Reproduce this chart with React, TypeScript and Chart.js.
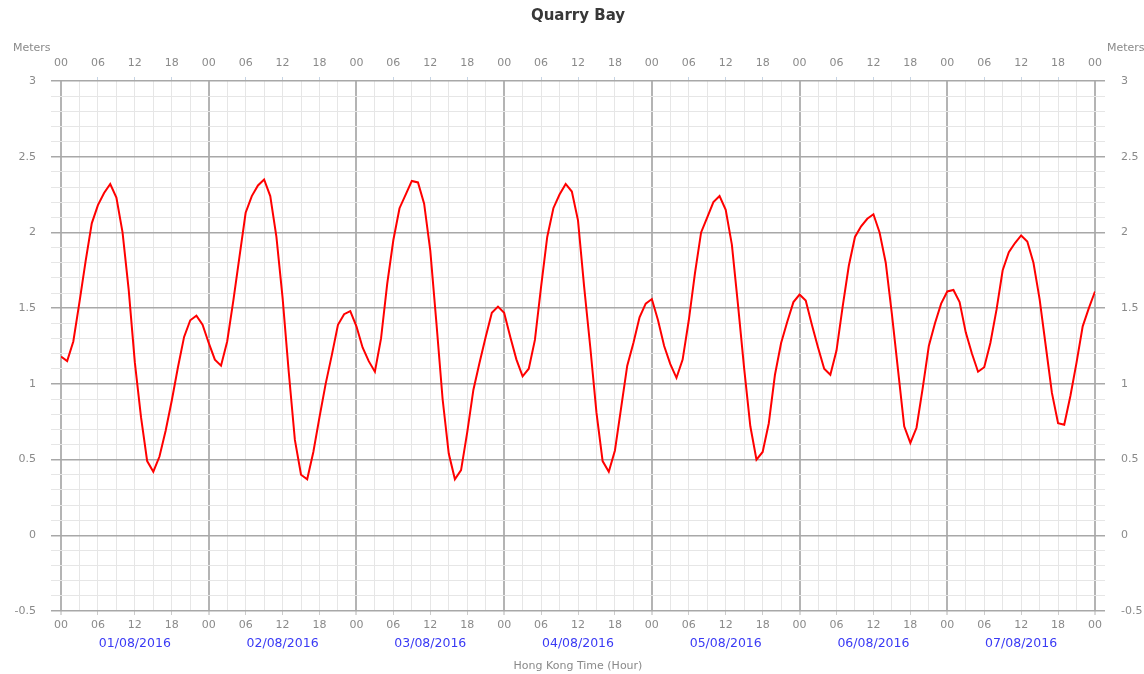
import React, { useEffect, useRef } from 'react';
import { Chart, registerables } from 'chart.js';

Chart.register(...registerables);

const stationName = 'Quarry Bay';
const unitLabel = 'Meters';
const timeAxisTitle = 'Hong Kong Time (Hour)';
const dayLabels = ['01/08/2016', '02/08/2016', '03/08/2016', '04/08/2016', '05/08/2016', '06/08/2016', '07/08/2016'];
const hourTickLabels = ['00', '06', '12', '18'];

// Hourly tide heights (m), one array per day
const day1 = [1.18, 1.15, 1.28, 1.54, 1.81, 2.06, 2.18, 2.26, 2.32, 2.23, 2.0, 1.62, 1.14, 0.78, 0.49, 0.42, 0.52, 0.69, 0.89, 1.11, 1.31, 1.42, 1.45, 1.39];
const day2 = [1.27, 1.16, 1.12, 1.28, 1.55, 1.84, 2.13, 2.24, 2.31, 2.35, 2.24, 1.97, 1.57, 1.08, 0.63, 0.4, 0.37, 0.55, 0.78, 1.0, 1.19, 1.39, 1.46, 1.48];
const day3 = [1.38, 1.24, 1.15, 1.08, 1.3, 1.66, 1.95, 2.16, 2.25, 2.34, 2.33, 2.19, 1.88, 1.4, 0.9, 0.54, 0.37, 0.43, 0.68, 0.96, 1.14, 1.31, 1.47, 1.51];
const day4 = [1.47, 1.31, 1.16, 1.05, 1.1, 1.29, 1.64, 1.97, 2.16, 2.25, 2.32, 2.27, 2.08, 1.64, 1.24, 0.81, 0.49, 0.42, 0.56, 0.84, 1.12, 1.27, 1.44, 1.53];
const day5 = [1.56, 1.42, 1.25, 1.13, 1.04, 1.16, 1.42, 1.73, 2.0, 2.1, 2.2, 2.24, 2.15, 1.92, 1.52, 1.1, 0.72, 0.5, 0.55, 0.74, 1.06, 1.27, 1.41, 1.54];
const day6 = [1.59, 1.55, 1.39, 1.24, 1.1, 1.06, 1.22, 1.51, 1.78, 1.97, 2.04, 2.09, 2.12, 2.0, 1.8, 1.46, 1.09, 0.72, 0.61, 0.71, 0.97, 1.25, 1.4, 1.53];
const day7 = [1.61, 1.62, 1.54, 1.34, 1.2, 1.08, 1.11, 1.27, 1.49, 1.75, 1.87, 1.93, 1.98, 1.94, 1.8, 1.56, 1.25, 0.94, 0.74, 0.73, 0.92, 1.14, 1.38, 1.5, 1.61];

const tideLevels = [...day1, ...day2, ...day3, ...day4, ...day5, ...day6, ...day7];

const FONT = '"DejaVu Sans", Verdana, sans-serif';
const LABEL_GREY = '#8a8a8a';

const hourLabel = (value: number) => {
  const v = Math.round(value);
  return v % 6 === 0 ? hourTickLabels[(v % 24) / 6] : '';
};
const levelLabel = (value: number) => {
  const t = Math.round(value * 10);
  return t % 5 === 0 ? String(t / 10) : '';
};
const xGridColor = (ctx: any) => {
  if (!ctx.tick) return 'rgba(0,0,0,0)';
  const v = Math.round(ctx.tick.value);
  return v % 24 === 0 ? '#b4b4b4' : '#e6e6e6';
};
const xGridWidth = (ctx: any) => {
  if (!ctx.tick) return 1;
  return Math.round(ctx.tick.value) % 24 === 0 ? 2 : 1;
};
const yGridColor = (ctx: any) => {
  if (!ctx.tick) return 'rgba(0,0,0,0)';
  const t = Math.round(ctx.tick.value * 10);
  return t % 5 === 0 ? '#a8a8a8' : '#e6e6e6';
};
const yGridWidth = (ctx: any) => {
  if (!ctx.tick) return 1;
  return Math.round(ctx.tick.value * 10) % 5 === 0 ? 1.5 : 1;
};

const textPlugin = {
  id: 'extraText',
  afterDraw(chart: any) {
    const { ctx, chartArea } = chart;
    ctx.save();
    ctx.textBaseline = 'middle';
    ctx.font = `bold 15px ${FONT}`;
    ctx.fillStyle = '#383838';
    ctx.textAlign = 'center';
    ctx.fillText(stationName, (chartArea.left + chartArea.right) / 2, 16);
    ctx.font = `11px ${FONT}`;
    ctx.fillStyle = LABEL_GREY;
    ctx.textAlign = 'left';
    ctx.fillText(unitLabel, chartArea.left - 48, 48);
    ctx.fillText(unitLabel, chartArea.right + 12, 48);
    ctx.restore();
  },
};

export default function App() {
  const canvasRef = useRef<HTMLCanvasElement | null>(null);

  useEffect(() => {
    const canvas = canvasRef.current;
    if (!canvas) return;
    const tickFont = { family: FONT, size: 11 };
    const chart = new Chart(canvas, {
      type: 'line',
      data: {
        datasets: [
          {
            data: tideLevels.map((y, i) => ({ x: i, y })),
            borderColor: '#ff0000',
            borderWidth: 2,
            pointRadius: 0,
            tension: 0,
            fill: false,
            xAxisID: 'x',
            yAxisID: 'y',
          },
        ],
      },
      options: {
        responsive: false,
        animation: false,
        devicePixelRatio: 1,
        layout: { padding: 0 },
        plugins: {
          legend: { display: false },
          title: { display: false },
          tooltip: { enabled: false },
        },
        scales: {
          x: {
            type: 'linear',
            position: 'bottom',
            weight: 0,
            min: 0,
            max: 168,
            afterFit: (s: any) => { s.height = 24; },
            ticks: {
              stepSize: 3,
              autoSkip: false,
              maxRotation: 0,
              padding: 4,
              color: LABEL_GREY,
              font: tickFont,
              callback: (v: any) => hourLabel(Number(v)),
            },
            grid: {
              color: xGridColor,
              lineWidth: xGridWidth,
              tickLength: 4,
              tickWidth: 1,
              tickColor: (ctx: any) => {
                if (!ctx.tick) return 'rgba(0,0,0,0)';
                const v = Math.round(ctx.tick.value);
                return v % 24 === 0 ? '#b4b4b4' : v % 6 === 0 ? '#cccccc' : 'rgba(0,0,0,0)';
              },
            },
            border: { display: false },
          },
          x3: {
            type: 'linear',
            position: 'bottom',
            weight: 1,
            min: 0,
            max: 168,
            afterFit: (s: any) => { s.height = 39; },
            afterBuildTicks: (s: any) => {
              s.ticks = dayLabels.map((_, i) => ({ value: 12 + 24 * i }));
            },
            ticks: {
              autoSkip: false,
              maxRotation: 0,
              padding: 1,
              color: '#3a3af5',
              font: { family: FONT, size: 12.5 },
              callback: (_v: any, i: number) => dayLabels[i],
            },
            grid: { display: false, drawTicks: false },
            border: { display: false },
            title: {
              display: true,
              text: timeAxisTitle,
              color: LABEL_GREY,
              font: { family: FONT, size: 11 },
              padding: { top: 0, bottom: 1 },
            },
          },
          x2: {
            type: 'linear',
            position: 'top',
            min: 0,
            max: 168,
            afterFit: (s: any) => { s.height = 81; },
            ticks: {
              stepSize: 3,
              autoSkip: false,
              maxRotation: 0,
              padding: 7,
              color: LABEL_GREY,
              font: tickFont,
              callback: (v: any) => hourLabel(Number(v)),
            },
            grid: {
              drawOnChartArea: false,
              tickLength: 4,
              tickWidth: 1,
              tickColor: (ctx: any) => {
                if (!ctx.tick) return 'rgba(0,0,0,0)';
                const v = Math.round(ctx.tick.value);
                return v % 6 === 0 && v % 24 !== 0 ? '#c6d4e4' : 'rgba(0,0,0,0)';
              },
            },
            border: { display: false },
          },
          y: {
            type: 'linear',
            position: 'left',
            min: -0.5,
            max: 3,
            afterFit: (s: any) => { s.width = 61; },
            ticks: {
              stepSize: 0.1,
              autoSkip: false,
              padding: 15,
              color: LABEL_GREY,
              font: tickFont,
              callback: (v: any) => levelLabel(Number(v)),
            },
            grid: {
              color: yGridColor,
              lineWidth: yGridWidth,
              tickLength: 10,
            },
            border: { display: false },
          },
          y2: {
            type: 'linear',
            position: 'right',
            min: -0.5,
            max: 3,
            afterFit: (s: any) => { s.width = 49; },
            ticks: {
              stepSize: 0.1,
              autoSkip: false,
              padding: 16,
              color: LABEL_GREY,
              font: tickFont,
              callback: (v: any) => levelLabel(Number(v)),
            },
            grid: {
              drawOnChartArea: false,
              color: yGridColor,
              lineWidth: yGridWidth,
              tickLength: 10,
            },
            border: { display: false },
          },
        },
      } as any,
      plugins: [textPlugin],
    });
    return () => chart.destroy();
  }, []);

  return (
    <div style={{ position: 'absolute', left: 0, top: 0, width: 1144, height: 674, background: '#ffffff' }}>
      <canvas ref={canvasRef} width={1144} height={674} style={{ display: 'block' }} />
    </div>
  );
}
